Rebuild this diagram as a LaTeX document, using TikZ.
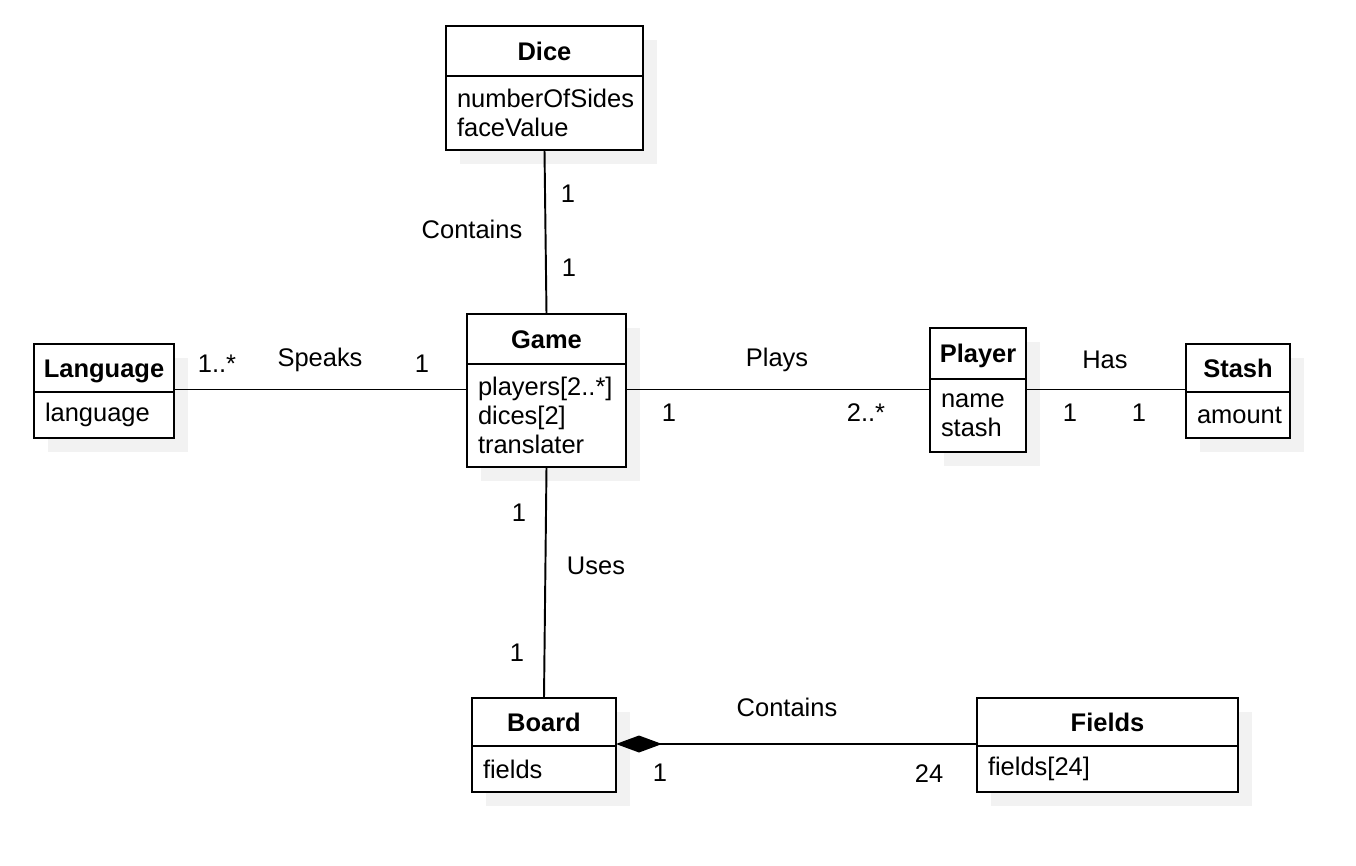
\documentclass[tikz,border=0pt]{standalone}
\usepackage{fontspec}
\setmainfont{Liberation Sans}
\usetikzlibrary{arrows.meta,shadows}
\newcommand{\classfont}{\fontsize{14.5pt}{16.5pt}\selectfont}
\tikzset{
  boxshadow/.style={drop shadow={shadow xshift=0.28cm,shadow yshift=-0.28cm,fill=black!5,opacity=1}},
  umlhead/.style={draw,fill=white,boxshadow,anchor=north west,inner sep=0pt,outer sep=0pt,minimum height=0.96cm,
    font=\classfont\bfseries,text height=10.4pt,text depth=0pt},
  umlbody/.style={draw,fill=white,boxshadow,anchor=north west,inner xsep=0.22cm,inner ysep=0pt,outer sep=0pt,
    align=left,font=\classfont},
  lbl/.style={font=\classfont,inner sep=0pt,text height=10.4pt,text depth=0pt}
}
\begin{document}
\begin{tikzpicture}[line width=1.1pt]
    \useasboundingbox (0,0) rectangle (27.12,-17.32);
    % classes
    \node[umlhead,minimum width=3.94cm,minimum height=1cm] (dice) at (8.92,-0.52) {Dice};
    \node[umlbody,text width=3.50cm,minimum height=1.48cm] (dice-a) at (dice.south west) {numberOfSides\\faceValue};
    \node[umlhead,minimum width=3.18cm,minimum height=1cm] (game) at (9.34,-6.28) {Game};
    \node[umlbody,text width=2.74cm,minimum height=2.06cm] (game-a) at (game.south west) {players[2..*]\\dices[2]\\translater};
    \node[umlhead,minimum width=2.80cm] (lang) at (0.68,-6.88) {Language};
    \node[umlbody,text width=2.36cm,minimum height=0.92cm] (lang-a) at (lang.south west) {language};
    \node[umlhead,minimum width=1.92cm,minimum height=1.02cm] (player) at (18.60,-6.56) {Player};
    \node[umlbody,text width=1.48cm,minimum height=1.46cm] (player-a) at (player.south west) {name\\stash};
    \node[umlhead,minimum width=2.08cm] (stash) at (23.72,-6.88) {Stash};
    \node[umlbody,text width=1.64cm,minimum height=0.92cm] (stash-a) at (stash.south west) {amount};
    \node[umlhead,minimum width=2.88cm] (board) at (9.44,-13.96) {Board};
    \node[umlbody,text width=2.44cm,minimum height=0.92cm] (board-a) at (board.south west) {fields};
    \node[umlhead,minimum width=5.22cm] (fields) at (19.54,-13.96) {Fields};
    \node[umlbody,text width=4.78cm,minimum height=0.92cm] (fields-a) at (fields.south west) {fields[24]};
    % associations
    \coordinate (row) at (0,-7.79);
    \coordinate (low) at (0,-14.88);
    \draw (dice-a.south) -- (game.north);
    \draw (game-a.south) -- (board.north);
    \draw (lang-a.east |- row) -- (game-a.west |- row);
    \draw (game-a.east |- row) -- (player-a.west |- row);
    \draw (player-a.east |- row) -- (stash-a.west |- row);
    \draw[{Diamond[length=0.92cm,width=0.34cm]}-] (board.east |- low) -- (fields.west |- low);
    % labels
    \node[lbl] (contains-dice) at (9.44,-4.58) {Contains};
    \node[lbl] (dice-m) at (11.36,-3.86) {1};
    \node[lbl] (game-m1) at (11.38,-5.34) {1};
    \node[lbl] (lang-m) at (4.34,-7.26) {1..*};
    \node[lbl] (speaks) at (6.40,-7.14) {Speaks};
    \node[lbl] (game-m2) at (8.44,-7.26) {1};
    \node[lbl] (plays) at (15.54,-7.14) {Plays};
    \node[lbl] (game-m3) at (13.38,-8.24) {1};
    \node[lbl] (player-m1) at (17.32,-8.24) {2..*};
    \node[lbl] (has) at (22.10,-7.18) {Has};
    \node[lbl] (player-m2) at (21.40,-8.24) {1};
    \node[lbl] (stash-m) at (22.78,-8.24) {1};
    \node[lbl] (game-m4) at (10.38,-10.24) {1};
    \node[lbl] (uses) at (11.92,-11.30) {Uses};
    \node[lbl] (board-m1) at (10.34,-13.04) {1};
    \node[lbl] (contains-fields) at (15.74,-14.14) {Contains};
    \node[lbl] (board-m2) at (13.20,-15.44) {1};
    \node[lbl] (fields-m) at (18.58,-15.46) {24};
\end{tikzpicture}
\end{document}
